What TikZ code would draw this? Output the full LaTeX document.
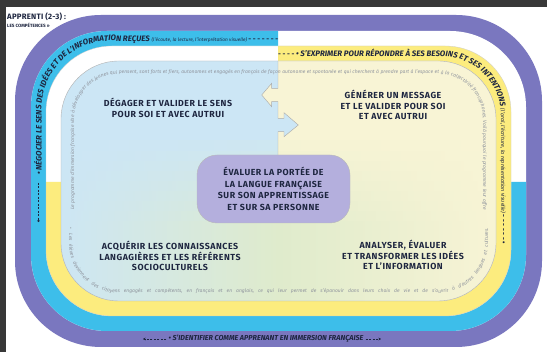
\documentclass[tikz,border=0pt]{standalone}
\usepackage{fontspec}
\setmainfont{Fira Sans}
\usetikzlibrary{decorations.text,arrows.meta}
\definecolor{ringpurple}{HTML}{7A77BF}
\definecolor{ringcyan}{HTML}{3DBEEA}
\definecolor{ringyellow}{HTML}{FCEC7E}
\definecolor{paleblue}{HTML}{CCE6F5}
\definecolor{paleyellow}{HTML}{F8F4D5}
\definecolor{palegreen}{HTML}{DFEBCC}
\definecolor{lavender}{HTML}{B4AFDD}
\definecolor{inktext}{HTML}{1E2640}
\definecolor{darkstrip}{HTML}{383838}
\definecolor{ringtext}{HTML}{8E939C}
\begin{document}
\begin{tikzpicture}[x=1pt,y=1pt,
  block/.style={font=\bfseries\fontsize{8.8}{10.6}\selectfont\addfontfeature{LetterSpace=6}, text=inktext, align=center, inner sep=0pt},
  divider/.style={gray!65, line width=0.45pt},
  bandline/.style={inktext, line width=0.5pt, dash pattern=on 2pt off 1.5pt},
  bandtip/.style={-{Stealth[length=2.6pt,width=2.8pt]}},
  dottip/.style={-{Circle[length=2.2pt]}}]
\useasboundingbox (0,0) rectangle (547,352);
\fill[white] (0,0) rectangle (547,352);
\fill[darkstrip] (0,345) rectangle (547,352);
\fill[darkstrip] (0,0) rectangle (5.5,352);
% rings
\fill[ringpurple, rounded corners=86] (15,5) rectangle (542,337);
\fill[white, rounded corners=76] (31,21) rectangle (526,321);
\begin{scope}
\clip[rounded corners=76] (31,21) rectangle (526,321);
\fill[ringcyan] (0,0) -- (547,0) -- (547,170) -- (278,170) -- (278,352) -- (0,352) -- cycle;
\end{scope}
\fill[white, rounded corners=66] (46,36) rectangle (511,306);
\begin{scope}
\clip[rounded corners=66] (46,36) rectangle (511,306);
\fill[ringyellow] (0,0) -- (547,0) -- (547,352) -- (278,352) -- (278,170) -- (0,170) -- cycle;
\end{scope}
\draw[gray!40, line width=0.3pt, rounded corners=66] (46,36) rectangle (511,306);
% inner region
\begin{scope}
\clip[rounded corners=58] (61,51) rectangle (496,291);
\fill[paleblue] (0,0) rectangle (547,352);
\fill[paleyellow] (278,352) -- (278,263.7) -- (271.7,263.7) -- (271.7,268.7) -- (261.7,257) -- (271.7,245.3) -- (271.7,250.3) -- (278,250.3) -- (278,233.7) -- (284,233.7) -- (284,239.3) -- (298.3,227) -- (284,215.3) -- (284,220.3) -- (278,220.3) -- (278,0) -- (547,0) -- (547,352) -- cycle;
\foreach \i in {0,...,15} {
  \pgfmathsetmacro\yb{51+\i*10}
  \pgfmathsetmacro\p{min(100,max(0,100*(211-\yb)/90))}
  \shade[left color=paleblue, right color=palegreen!\p!paleblue] (55,\yb) rectangle (278.3,\yb+10.6);
  \shade[left color=palegreen!\p!paleyellow, right color=paleyellow] (278,\yb) rectangle (500,\yb+10.6);
}
\end{scope}
\draw[gray!60, line width=0.4pt, rounded corners=58] (61,51) rectangle (496,291);
% inner text ring
\path[decorate, decoration={text along path, text color=ringtext, text align={fit to path stretching spaces},
  text={|\normalfont\itshape\fontsize{5}{6}\selectfont|Le programme d'immersion française vise à développer des jeunes qui pensent, sont forts et fiers, autonomes et engagés en français de façon autonome et spontanée et qui cherchent à prendre part à l'espace et à la collectivité francophones. Voilà pourquoi le programme leur offre}}]
  (74,142) -- (74,233) arc[start angle=180, end angle=90, radius=45] -- (438,278) arc[start angle=90, end angle=0, radius=45] -- (483,142);
\path[decorate, decoration={text along path, text color=ringtext, text align={fit to path stretching spaces},
  text={|\normalfont\itshape\fontsize{5}{6}\selectfont|• Les élèves deviennent des citoyens engagés et compétents, en français et en anglais, ce qui leur permet de s'épanouir dans leurs choix de vie et de s'ouvrir à d'autres langues et cultures.}}]
  (69,124) -- (69,109) arc[start angle=180, end angle=270, radius=50] -- (438,59) arc[start angle=270, end angle=360, radius=50] -- (488,124);
% band texts
\path[decorate, decoration={text along path, text color=inktext, text align=left,
  text={|\normalfont\bfseries\itshape\fontsize{7.9}{9}\selectfont|• NÉGOCIER LE SENS DES IDÉES ET DE L'INFORMATION REÇUES |\normalfont\itshape\fontsize{4.8}{6}\selectfont|(l'écoute, la lecture, l'interprétation visuelle) |\normalfont\bfseries\fontsize{7}{8}\selectfont|- - - - - - - - - -}}]
  (41.5,177) -- (41.5,243) arc[start angle=180, end angle=90, radius=68] -- (278,310.5);
\coordinate (negstart) at (38.5,169);
\coordinate (negend) at (38.5,130);
\draw[bandline, dottip] (negstart) -- (negend);
\path[decorate, decoration={text along path, text color=inktext, text align=left,
  text={|\normalfont\bfseries\fontsize{7}{8}\selectfont|- - - - |\normalfont\bfseries\itshape\fontsize{7.9}{9}\selectfont|• S'EXPRIMER POUR RÉPONDRE À SES BESOINS ET SES INTENTIONS |\normalfont\itshape\fontsize{5.4}{6}\selectfont|(l'oral, l'écriture, la représentation visuelle) |\normalfont\bfseries\fontsize{7}{8}\selectfont|- - - - - - •}}]
  (278,295.5) -- (442,295.5) arc[start angle=90, end angle=0, radius=59] -- (501.5,85);
\node[font=\bfseries\itshape\fontsize{7.2}{8}\selectfont, text=inktext, inner sep=2pt] (idlabel) at (266,13) {• S'IDENTIFIER COMME APPRENANT EN IMMERSION FRANÇAISE};
\coordinate (idL) at (143,13);
\coordinate (idR) at (381,13);
\draw[bandline, bandtip] (idlabel.west) -- (idL);
\draw[bandline, bandtip] (idlabel.east) -- (idR);
% title
\node[anchor=west, font=\bfseries\fontsize{7.8}{8}\selectfont\addfontfeature{LetterSpace=3}, text=inktext, inner sep=0pt] (title) at (7,335) {APPRENTI (2-3) :};
\node[anchor=west, font=\bfseries\fontsize{4.6}{5}\selectfont, text=inktext, inner sep=0pt] (subtitle) at (7,326.5) {LES COMPÉTENCES »};
% centre
\node[block, fill=lavender, draw=gray!55, line width=0.4pt, rounded corners=20pt, minimum width=153pt, minimum height=68pt, font=\bfseries\fontsize{8.8}{11.6}\selectfont\addfontfeature{LetterSpace=6}] (evaluer) at (273.5,163) {ÉVALUER LA PORTÉE DE\\LA LANGUE FRANÇAISE\\SUR SON APPRENTISSAGE\\ET SUR SA PERSONNE};
\coordinate (divtop) at (278,291);
\draw[divider] (divtop) -- (278,263.7) -- (271.7,263.7) -- (271.7,268.7) -- (261.7,257) -- (271.7,245.3) -- (271.7,250.3) -- (278,250.3) -- (278,233.7) -- (284,233.7) -- (284,239.3) -- (298.3,227) -- (284,215.3) -- (284,220.3) -- (278,220.3) -- (divtop |- evaluer.north);
% blocks
\node[block] (degager) at (168,244) {DÉGAGER ET VALIDER LE SENS\\POUR SOI ET AVEC AUTRUI};
\node[block] (generer) at (393,247) {GÉNÉRER UN MESSAGE\\ET LE VALIDER POUR SOI\\ET AVEC AUTRUI};
\node[block] (acquerir) at (170,96) {ACQUÉRIR LES CONNAISSANCES\\LANGAGIÈRES ET LES RÉFÉRENTS\\SOCIOCULTURELS};
\node[block] (analyser) at (403,97) {ANALYSER, ÉVALUER\\ET TRANSFORMER LES IDÉES\\ET L'INFORMATION};
\end{tikzpicture}
\end{document}
